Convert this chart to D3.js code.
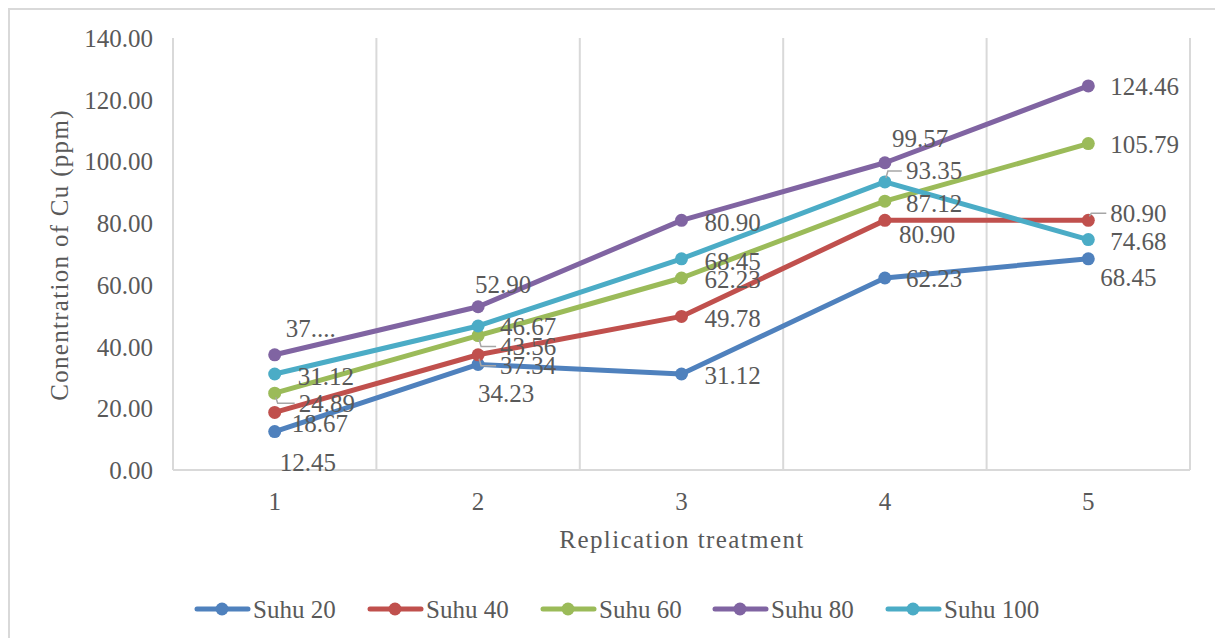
<!DOCTYPE html>
<html>
<head>
<meta charset="utf-8">
<script src="https://cdn.jsdelivr.net/npm/d3@7/dist/d3.min.js"></script>
<style>
  html, body { margin: 0; padding: 0; background: #ffffff; }
  svg { display: block; }
  text { font-family: "Liberation Serif", "DejaVu Serif", serif; fill: #595959; }
</style>
</head>
<body>
<svg id="chart" width="1215" height="638"></svg>
<script>
// Replication treatments on the x axis
const categories = ["1", "2", "3", "4", "5"];

// Cu concentration (ppm) per temperature series
const seriesNames = ["Suhu 20", "Suhu 40", "Suhu 60", "Suhu 80", "Suhu 100"];
const suhu20  = [12.45, 34.23, 31.12, 62.23, 68.45];
const suhu40  = [18.67, 37.34, 49.78, 80.90, 80.90];
const suhu60  = [24.89, 43.56, 62.23, 87.12, 105.79];
const suhu80  = [37.34, 52.90, 80.90, 99.57, 124.46];
const suhu100 = [31.12, 46.67, 68.45, 93.35, 74.68];
const seriesValues = [suhu20, suhu40, suhu60, suhu80, suhu100];

// Y axis tick values
const yTicks = [0, 20, 40, 60, 80, 100, 120, 140];

const colors = ["#4F81BD", "#C0504D", "#9BBB59", "#8064A2", "#4BACC6"];

// Data label placement: offset of label's left edge / vertical middle from its point,
// plus whether a leader line is drawn
const labelPlacement = [
  [[5, 31, 0], [0, 29, 0], [23, 2, 0], [21, 1, 0], [12, 19, 0]],
  [[17, 11, 0], [22, 11, 1], [23, 2, 0], [14, 14, 0], [22, -7, 1]],
  [[24, 10, 1], [22, 11, 1], [23, 2, 0], [21, 2, 0], [22, 1, 0]],
  [[11, -26, 0], [-3, -22, 0], [23, 2, 0], [7, -24, 0], [22, 1, 0]],
  [[23, 3, 0], [22, 1, 0], [23, 3, 0], [21, -11, 1], [22, 2, 0]]
];
// Labels too wide for their slot are shortened
const truncatedLabels = { "3-0": "37...." };

const svg = d3.select("#chart");

// Outer chart frame (top and left edges visible)
svg.append("path")
  .attr("d", "M9,640 L9,9 L1215,9")
  .attr("fill", "none")
  .attr("stroke", "#D9D9D9")
  .attr("stroke-width", 2);

const plot = { left: 173, right: 1190, top: 38, bottom: 470 };

const x = d3.scaleBand().domain(categories).range([plot.left, plot.right]).padding(0);
const xc = c => x(c) + x.bandwidth() / 2;
const y = d3.scaleLinear().domain([0, 140]).range([plot.bottom, plot.top]);

// Vertical gridlines at category boundaries
const bounds = categories.map(c => x(c)).concat([plot.right]);
svg.append("g").selectAll("line").data(bounds).join("line")
  .attr("x1", d => d).attr("x2", d => d)
  .attr("y1", plot.top).attr("y2", plot.bottom)
  .attr("stroke", "#D9D9D9").attr("stroke-width", 2);

// Horizontal axis line
svg.append("line")
  .attr("x1", plot.left).attr("x2", plot.right)
  .attr("y1", plot.bottom).attr("y2", plot.bottom)
  .attr("stroke", "#D9D9D9").attr("stroke-width", 2);

// Y axis labels
const yAxis = d3.axisLeft(y).tickValues(yTicks).tickFormat(d3.format(".2f")).tickSize(0).tickPadding(20);
const yg = svg.append("g").attr("transform", `translate(${plot.left},0)`).call(yAxis);
yg.select(".domain").remove();
yg.selectAll("text").attr("font-size", 25).attr("font-family", "Liberation Serif").attr("fill", "#595959").attr("dy", "0.34em");

// X axis labels
const xAxis = d3.axisBottom(x).tickSize(0).tickPadding(22);
const xg = svg.append("g").attr("transform", `translate(0,${plot.bottom})`).call(xAxis);
xg.select(".domain").remove();
xg.selectAll("text").attr("font-size", 25).attr("font-family", "Liberation Serif").attr("fill", "#595959");

// Axis titles
svg.append("text")
  .attr("x", 682).attr("y", 548)
  .attr("text-anchor", "middle")
  .attr("font-size", 25)
  .attr("letter-spacing", 1.4)
  .text("Replication treatment");

svg.append("text")
  .attr("transform", "translate(68,255) rotate(-90)")
  .attr("text-anchor", "middle")
  .attr("font-size", 25)
  .attr("letter-spacing", 1.3)
  .text("Conentration of Cu (ppm)");

// Series lines and markers
const line = d3.line().x((d, i) => xc(categories[i])).y(d => y(d));
seriesValues.forEach((vals, s) => {
  const g = svg.append("g");
  g.append("path")
    .datum(vals)
    .attr("d", line)
    .attr("fill", "none")
    .attr("stroke", colors[s])
    .attr("stroke-width", 5)
    .attr("stroke-linejoin", "round")
    .attr("stroke-linecap", "round");
  g.selectAll("circle").data(vals).join("circle")
    .attr("cx", (d, i) => xc(categories[i]))
    .attr("cy", d => y(d))
    .attr("r", 6.5)
    .attr("fill", colors[s]);
});

// Data labels with leader lines
const fmt = d3.format(".2f");
const labels = svg.append("g");
seriesValues.forEach((vals, s) => {
  vals.forEach((v, i) => {
    const px = xc(categories[i]);
    const py = y(v);
    const [dx, dy, leader] = labelPlacement[s][i];
    const lx = px + dx, ly = py + dy;
    if (leader) {
      const sign = dy > 0 ? 1 : -1;
      labels.append("path")
        .attr("d", `M${px + 1},${py + sign * 4} L${px + 3},${ly} L${lx - 4},${ly}`)
        .attr("fill", "none")
        .attr("stroke", "#A6A6A6")
        .attr("stroke-width", 1.5);
    }
    labels.append("text")
      .attr("x", lx).attr("y", ly)
      .attr("dy", "0.34em")
      .attr("font-size", 25)
      .text(truncatedLabels[`${s}-${i}`] || fmt(v));
  });
});

// Legend
const legendItems = [194, 367, 540, 712, 885];
const lg = svg.append("g");
seriesNames.forEach((name, s) => {
  const lx = legendItems[s], ly = 609;
  lg.append("line")
    .attr("x1", lx + 3).attr("x2", lx + 54)
    .attr("y1", ly).attr("y2", ly)
    .attr("stroke", colors[s]).attr("stroke-width", 5)
    .attr("stroke-linecap", "round");
  lg.append("circle")
    .attr("cx", lx + 28).attr("cy", ly).attr("r", 6.5)
    .attr("fill", colors[s]);
  lg.append("text")
    .attr("x", lx + 59).attr("y", ly)
    .attr("dy", "0.34em")
    .attr("font-size", 25)
    .text(name);
});
</script>
</body>
</html>
